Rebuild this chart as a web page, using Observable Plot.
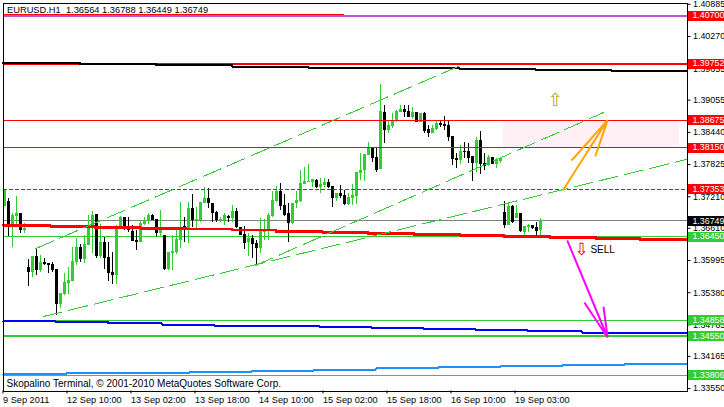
<!DOCTYPE html>
<html>
<head>
<meta charset="utf-8">
<script src="https://cdn.jsdelivr.net/npm/d3@7"></script>
<script src="https://cdn.jsdelivr.net/npm/@observablehq/plot@0.6"></script>
<style>html,body{margin:0;padding:0;background:#fff;overflow:hidden}</style>
</head>
<body>
<div id="chart"></div>
<script>
const open = [1.3702,1.3712,1.3662,1.3683,1.3689,1.3657,1.3586,1.3576,1.3607,1.3580,1.3595,1.3593,1.3592,1.3582,1.3515,1.3534,1.3555,1.3559,1.3595,1.3624,
1.3601,1.3628,1.3666,1.3687,1.3607,1.3634,1.3605,1.3576,1.3571,1.3662,1.3681,1.3662,1.3655,1.3638,1.3634,1.3668,1.3676,1.3685,1.3678,1.3651,
1.3647,1.3582,1.3613,1.3615,1.3638,1.3664,1.3659,1.3698,1.3676,1.3676,1.3708,1.3717,1.3708,1.3691,1.3676,1.3676,1.3683,1.3679,1.3693,1.3662,
1.3649,1.3634,1.3641,1.3632,1.3622,1.3653,1.3655,1.3683,1.3712,1.3731,1.3704,1.3689,1.3670,1.3708,1.3712,1.3744,1.3748,1.3748,1.3752,1.3738,
1.3742,1.3748,1.3740,1.3717,1.3727,1.3723,1.3706,1.3717,1.3721,1.3765,1.3771,1.3800,1.3813,1.3796,1.3773,1.3882,1.3848,1.3855,1.3865,1.3882,
1.3888,1.3884,1.3872,1.3882,1.3863,1.3880,1.3849,1.3842,1.3849,1.3861,1.3859,1.3857,1.3836,1.3794,1.3790,1.3807,1.3807,1.3798,1.3784,1.3829,
1.3784,1.3780,1.3796,1.3782,1.3788,1.3691,1.3666,1.3702,1.3679,1.3689,1.3653,1.3662,1.3666,1.3662,1.36564];
const high = [1.3735,1.3717,1.3689,1.3721,1.3689,1.3670,1.3601,1.3607,1.3622,1.3609,1.3603,1.3593,1.3595,1.3582,1.3536,1.3574,1.3586,1.3624,1.3641,1.3630,
1.3647,1.3685,1.3693,1.3687,1.3668,1.3643,1.3634,1.3615,1.3666,1.3683,1.3681,1.3681,1.3666,1.3657,1.3676,1.3681,1.3689,1.3687,1.3678,1.3695,
1.3647,1.3615,1.3647,1.3660,1.3710,1.3681,1.3710,1.3725,1.3700,1.3710,1.3738,1.3736,1.3708,1.3693,1.3681,1.3689,1.3685,1.3704,1.3698,1.3662,
1.3664,1.3651,1.3647,1.3638,1.3679,1.3678,1.3689,1.3731,1.3740,1.3746,1.3725,1.3708,1.3708,1.3731,1.3771,1.3777,1.3782,1.3754,1.3754,1.3756,
1.3756,1.3754,1.3740,1.3727,1.3742,1.3733,1.3727,1.3744,1.3767,1.3803,1.3802,1.3825,1.3813,1.3813,1.3935,1.3895,1.3867,1.3880,1.3886,1.3895,
1.3895,1.3895,1.3891,1.3882,1.3880,1.3882,1.3857,1.3857,1.3867,1.3867,1.3874,1.3867,1.3836,1.3803,1.3819,1.3825,1.3823,1.3798,1.3834,1.3846,
1.3803,1.3800,1.3796,1.3794,1.3796,1.3712,1.3708,1.3704,1.3704,1.3689,1.3664,1.3668,1.3666,1.3672,1.36788];
const low = [1.3702,1.3645,1.3624,1.3662,1.3651,1.3651,1.3550,1.3567,1.3571,1.3576,1.3590,1.3574,1.3576,1.3494,1.3507,1.3532,1.3534,1.3559,1.3590,1.3595,
1.3593,1.3628,1.3613,1.3603,1.3603,1.3582,1.3559,1.3553,1.3553,1.3662,1.3657,1.3653,1.3636,1.3619,1.3634,1.3666,1.3668,1.3676,1.3645,1.3643,
1.3580,1.3580,1.3580,1.3611,1.3622,1.3634,1.3632,1.3662,1.3657,1.3672,1.3708,1.3698,1.3672,1.3672,1.3672,1.3666,1.3672,1.3672,1.3660,1.3647,
1.3620,1.3607,1.3603,1.3590,1.3613,1.3638,1.3638,1.3681,1.3710,1.3695,1.3683,1.3634,1.3668,1.3698,1.3710,1.3744,1.3748,1.3738,1.3736,1.3727,
1.3738,1.3736,1.3700,1.3712,1.3717,1.3704,1.3704,1.3704,1.3706,1.3752,1.3750,1.3800,1.3786,1.3767,1.3773,1.3823,1.3842,1.3851,1.3863,1.3882,
1.3872,1.3872,1.3869,1.3863,1.3863,1.3842,1.3834,1.3842,1.3848,1.3853,1.3848,1.3827,1.3780,1.3775,1.3782,1.3794,1.3784,1.3750,1.3767,1.3763,
1.3771,1.3779,1.3782,1.3775,1.3784,1.3660,1.3666,1.3670,1.3679,1.3653,1.3645,1.3653,1.3659,1.3647,1.36449];
const close = [1.3735,1.3664,1.3685,1.3689,1.3657,1.3660,1.3576,1.3607,1.3580,1.3595,1.3592,1.3590,1.3580,1.3515,1.3536,1.3557,1.3561,1.3597,1.3624,1.3601,
1.3630,1.3662,1.3685,1.3607,1.3634,1.3603,1.3574,1.3571,1.3662,1.3681,1.3660,1.3657,1.3636,1.3634,1.3670,1.3676,1.3685,1.3676,1.3651,1.3657,
1.3582,1.3615,1.3617,1.3640,1.3662,1.3659,1.3698,1.3676,1.3678,1.3710,1.3717,1.3708,1.3689,1.3676,1.3678,1.3685,1.3679,1.3693,1.3662,1.3647,
1.3632,1.3641,1.3630,1.3622,1.3655,1.3655,1.3685,1.3714,1.3731,1.3702,1.3685,1.3670,1.3708,1.3714,1.3746,1.3750,1.3750,1.3754,1.3738,1.3744,
1.3748,1.3738,1.3717,1.3727,1.3721,1.3706,1.3719,1.3723,1.3767,1.3771,1.3802,1.3813,1.3794,1.3771,1.3884,1.3848,1.3857,1.3865,1.3884,1.3888,
1.3882,1.3872,1.3882,1.3863,1.3880,1.3846,1.3842,1.3851,1.3861,1.3857,1.3855,1.3834,1.3792,1.3790,1.3807,1.3805,1.3794,1.3784,1.3829,1.3782,
1.3779,1.3796,1.3782,1.3792,1.3794,1.3666,1.3702,1.3672,1.3689,1.3655,1.3664,1.3666,1.3660,1.3655,1.36749];

const blackEdges = [-0.25,19,38,57,76,95,114,133,152,170.75];
const blackMA = [1.39760,1.39741,1.39722,1.39697,1.39678,1.39659,1.39640,1.39621,1.39602];
const redEdges = [-0.25,11.4,22.6,34,45.4,57,68,79.6,91,102.4,114,125,136.4,148,159,170.75];
const redMA = [1.36668,1.36649,1.36630,1.36611,1.36592,1.36573,1.36548,1.36529,1.36510,1.36491,1.36472,1.36453,1.36434,1.36414,1.36395];
const blueEdges = [-0.25,13.1,26.1,39.4,52.6,65.6,78.9,91.9,105,118,131.1,144.4,157.4,170.75];
const blueMA = [1.34831,1.34812,1.34793,1.34773,1.34754,1.34735,1.34716,1.34697,1.34678,1.34659,1.34640,1.34620,1.34602];
const skyEdges = [-0.25,15.4,30.9,46.4,61.9,77.4,92.9,108.6,124.1,139.6,155.1,170.75];
const skyMA = [1.33819,1.33838,1.33857,1.33876,1.33895,1.33914,1.33934,1.33953,1.33972,1.33991,1.34010];

const channelUpper = [[8,1.36224],[113.6,1.39697]];
const channelMiddle = [[62.9,1.35899],[149.9,1.38819]];
const channelLower = [[9.9,1.34926],[170.6,1.37922]];

const arrowUp = [[139.9,1.37353],[150.9,1.38675],[141.9,1.37903],[150.9,1.38675],[147.9,1.37998]];
const arrowDown = [[140.9,1.36363],[150.9,1.34525],[145.1,1.35193],[150.9,1.34525],[149.9,1.35098]];

const yTicks = [1.40885,1.40270,1.39655,1.39055,1.38440,1.37825,1.37210,1.36610,1.35995,1.35380,1.34765,1.34165,1.33550];
const xTicks = [0,16,32,48,64,80,96,112,128];
const xLabels = ["9 Sep 2011","12 Sep 10:00","13 Sep 02:00","13 Sep 18:00","14 Sep 10:00","15 Sep 02:00","15 Sep 18:00","16 Sep 10:00","19 Sep 03:00"];

const levelValues = [1.40670,1.39752,1.38675,1.38150,1.37353,1.36749,1.36450,1.34858,1.34550,1.33806];
const levelLabels = ["1.40700","1.39752","1.38675","1.38150","1.37353","1.36749","1.36450","1.34858","1.34550","1.33806"];
const levelColors = ["#ff0000","#ff0000","#ff0000","#ff0000","#ff0000","#000000","#32cd32","#32cd32","#32cd32","#32cd32"];

const titleText = "EURUSD.H1\u00a0\u00a01.36564 1.36788 1.36449 1.36749";
const footerText = "Skopalino Terminal, \u00a9 2001-2010 MetaQuotes Software Corp.";

const GREEN = "#32cd32";
const bars = open.map((o,i)=>({i,o,h:high[i],l:low[i],c:close[i],col:close[i]>=o?GREEN:"#000000"}));
const steps = (edges,vals)=>[...vals.map((v,k)=>[edges[k],v]),[edges[edges.length-1],vals[vals.length-1]]];
const levels = levelValues.map((v,k)=>({v,t:levelLabels[k],col:levelColors[k]}));
const crisp = {shapeRendering:"crispEdges"};
const fillBox = 171.1, endBox = 180.3, labelX = 172.1;

const stepLine = (edges,vals,color,w=2)=>Plot.line(steps(edges,vals),{x:d=>d[0],y:d=>d[1],curve:"step-after",stroke:color,strokeWidth:w,...crisp});
const dashLine = (pts)=>Plot.line(pts,{x:d=>d[0],y:d=>d[1],stroke:GREEN,strokeWidth:1,strokeDasharray:"19,7",...crisp});

const chart = Plot.plot({
  width:724,height:407,
  marginLeft:2.5,marginRight:37.5,marginTop:2.5,marginBottom:16.5,
  style:{fontFamily:"'Liberation Sans',sans-serif",fontSize:"9px",background:"#fff",color:"#000",display:"block"},
  x:{type:"linear",domain:[-0.25,170.75]},
  y:{type:"linear",domain:[1.33504,1.40909]},
  marks:[
    Plot.rect([{a:124.9,b:168.9,y1:1.3815,y2:1.38675}],{x1:"a",x2:"b",y1:"y1",y2:"y2",fill:"#fff0f5",...crisp}),
    Plot.ruleY([levelValues[5]],{stroke:"#808080",strokeWidth:1,...crisp}),
    Plot.ruleY([levelValues[6],levelValues[7],levelValues[9]],{stroke:GREEN,strokeWidth:1,...crisp}),
    Plot.ruleY([levelValues[8]],{stroke:GREEN,strokeWidth:2,...crisp}),
    Plot.ruleX(bars,{x:"i",y1:"l",y2:"h",stroke:"col",strokeWidth:1,...crisp}),
    Plot.ruleX(bars,{x:"i",y1:"o",y2:"c",stroke:"col",strokeWidth:3,...crisp}),
    Plot.ruleY([levelValues[0]],{stroke:"#ba55d3",strokeWidth:2,...crisp}),
    Plot.ruleY([levelValues[0]],{x1:-0.25,x2:85,dy:-1,stroke:"#ff0000",strokeWidth:1,...crisp}),
    Plot.ruleY([levelValues[1]],{stroke:"#ff0000",strokeWidth:2,...crisp}),
    Plot.ruleY([levelValues[2],levelValues[3]],{stroke:"#ff0000",strokeWidth:1,...crisp}),
    Plot.ruleY([levelValues[4]],{stroke:"#ff0000",strokeWidth:1,strokeDasharray:"4,2",...crisp}),
    stepLine(blackEdges,blackMA,"#000000"),
    stepLine(redEdges,redMA,"#ff0000",2.6),
    stepLine(blueEdges,blueMA,"#0000ff",2),
    stepLine(skyEdges,skyMA,"#1e90ff",2),
    dashLine(channelUpper),dashLine(channelMiddle),dashLine(channelLower),
    Plot.line(arrowUp,{x:d=>d[0],y:d=>d[1],stroke:"#ffa500",strokeWidth:2,strokeLinejoin:"miter"}),
    Plot.line(arrowDown,{x:d=>d[0],y:d=>d[1],stroke:"#ff00ff",strokeWidth:2,strokeLinejoin:"miter"}),
    Plot.frame({stroke:"#000",strokeWidth:1,...crisp}),
    Plot.axisY({anchor:"right",ticks:yTicks,tickFormat:d=>d.toFixed(5),tickSize:3,tickPadding:3,label:null,fontSize:8.9,fontVariant:"normal"}),
    Plot.axisX({ticks:xTicks,tickFormat:i=>xLabels[xTicks.indexOf(i)],textAnchor:"start",dx:-1,tickSize:3,tickPadding:2,label:null,fontSize:9.2,fontVariant:"normal"}),
    Plot.ruleY(levels,{y:"v",x1:fillBox,x2:endBox,stroke:"col",strokeWidth:10,clip:false,...crisp}),
    Plot.text(levels,{y:"v",x:labelX,text:"t",fill:"#fff",textAnchor:"start",fontSize:8.9,clip:false}),
    Plot.text([titleText],{frameAnchor:"top-left",dx:4,dy:3,fill:"#000",fontSize:9.3,lineAnchor:"top"}),
    Plot.text([footerText],{frameAnchor:"bottom-left",dx:3.5,dy:-4,fill:"#000",fontSize:10,lineAnchor:"bottom"}),
    Plot.text(["\u21e7"],{x:137.9,y:1.39048,fill:"#daa520",stroke:"#7fffd4",strokeWidth:0.3,fontFamily:"DejaVu Sans",fontSize:18}),
    Plot.text(["\u21e9"],{x:144.4,y:1.3620,fill:"#ff0000",fontFamily:"DejaVu Sans",fontSize:17}),
    Plot.text(["SELL"],{x:146.6,y:1.3620,fill:"#000",textAnchor:"start",fontSize:10})
  ]
});
document.getElementById("chart").appendChild(chart);
</script>
</body>
</html>
